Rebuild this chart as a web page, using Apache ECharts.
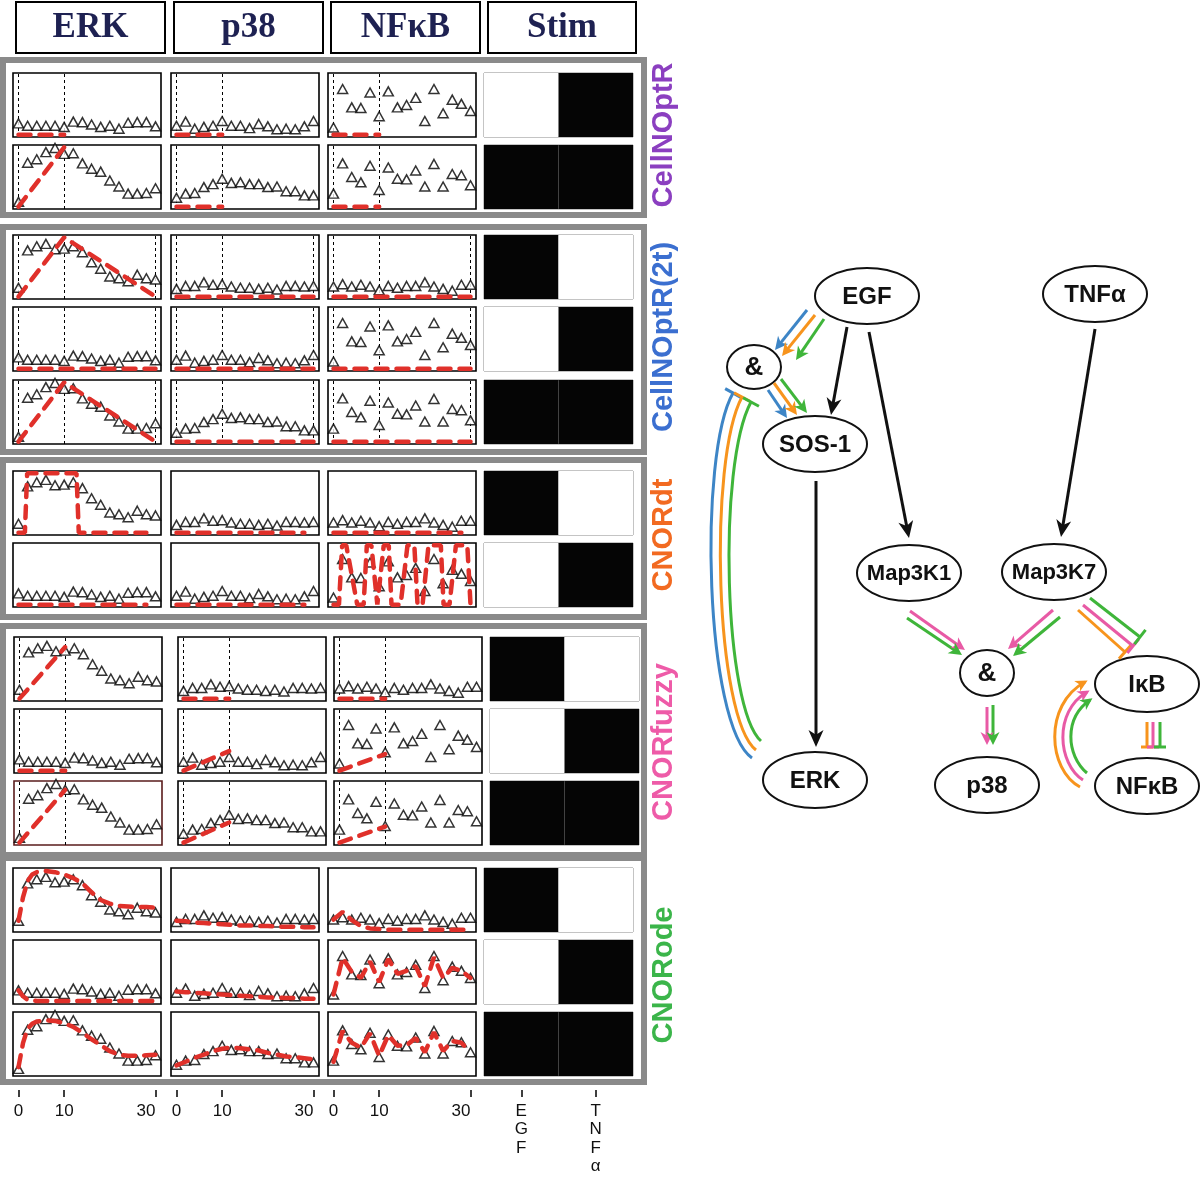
<!DOCTYPE html>
<html><head><meta charset="utf-8">
<script src="https://cdn.jsdelivr.net/npm/echarts@6/dist/echarts.min.js"></script>
<style>html,body{margin:0;padding:0;background:#fff}#c{width:1200px;height:1177px}</style>
</head><body><div id="c"></div>
<script>
// ---------------- DATA ----------------
const TIME = [0,2,4,6,8,10,12,14,16,18,20,22,24,26,28,30];
const TICK_VALUES = [0,10,30];
const SPECIES = ['ERK','p38','NFκB','Stim'];
const STIM_LABELS = ['EGF','TNFα'];
const METHODS = ['CellNOptR','CellNOptR(2t)','CNORdt','CNORfuzzy','CNORode'];

// measured data (triangles)
const ERK_EGF   = [0.15,0.78,0.85,0.89,0.80,0.81,0.85,0.75,0.58,0.47,0.34,0.31,0.26,0.37,0.31,0.29];
const ERK_TNF   = [0.19,0.15,0.15,0.15,0.15,0.13,0.22,0.21,0.17,0.13,0.15,0.10,0.20,0.21,0.21,0.14];
const ERK_BOTH  = [0.08,0.74,0.80,0.92,0.99,0.89,0.90,0.73,0.64,0.59,0.44,0.34,0.22,0.22,0.23,0.31];
const P38_EGF   = [0.13,0.18,0.18,0.24,0.20,0.21,0.17,0.15,0.15,0.13,0.15,0.12,0.18,0.18,0.17,0.18];
const P38_TNF   = [0.15,0.22,0.10,0.13,0.15,0.23,0.15,0.15,0.11,0.18,0.14,0.09,0.10,0.09,0.14,0.23];
const P38_BOTH  = [0.15,0.22,0.23,0.33,0.38,0.47,0.40,0.41,0.38,0.38,0.33,0.34,0.26,0.26,0.19,0.19];
const NFKB_EGF  = [0.17,0.21,0.17,0.20,0.17,0.11,0.18,0.15,0.18,0.18,0.24,0.17,0.13,0.10,0.20,0.20];
const NFKB_TNF  = [0.12,0.77,0.46,0.45,0.71,0.31,0.73,0.46,0.50,0.62,0.23,0.77,0.36,0.59,0.52,0.40];
const NFKB_BOTH = [0.22,0.73,0.50,0.41,0.69,0.28,0.66,0.47,0.46,0.61,0.34,0.72,0.34,0.55,0.53,0.36];

// stimuli (EGF, TNFα)
const STIM_EGF  = [1,0];
const STIM_TNF  = [0,1];
const STIM_BOTH = [1,1];

// CellNOptR (one time point)
const NOPT_T = [0,10];
const NOPT_TNF_ERK = [0,0], NOPT_TNF_P38 = [0,0], NOPT_TNF_NFKB = [0,0];
const NOPT_BOTH_ERK = [0,1], NOPT_BOTH_P38 = [0,0], NOPT_BOTH_NFKB = [0,0];
// CellNOptR (2t)
const T2_T = [0,10,30];
const T2_EGF_ERK = [0,1,0], T2_EGF_P38 = [0,0,0], T2_EGF_NFKB = [0,0,0];
const T2_TNF_ERK = [0,0,0], T2_TNF_P38 = [0,0,0], T2_TNF_NFKB = [0,0,0];
const T2_BOTH_ERK = [0,1,0], T2_BOTH_P38 = [0,0,0], T2_BOTH_NFKB = [0,0,0];
// CNORdt
const DT_FLAT_T = [0,28];
const DT_EGF_ERK_T = [0,1.4,1.9,12.7,13.2,28];
const DT_EGF_ERK   = [0,0,1,1,0,0];
const DT_EGF_P38 = [0,0], DT_EGF_NFKB = [0,0], DT_TNF_ERK = [0,0], DT_TNF_P38 = [0,0];
const DT_TNF_NFKB_T = [0,1.2,1.9,2.8,5.2,6.6,7.3,8.3,9.6,11,12.1,12.7,14.7,16.2,17.7,18.4,19.5,20.8,23.5,24.1,25.4,26.8,29.3,30];
const DT_TNF_NFKB   = [0,0,1,1,0,0,1,1,0,1,1,0,0,1,1,0,0,1,1,0,0,1,1,0];
// CNORfuzzy
const FUZ_T = [0,10];
const FUZ_EGF_ERK = [0,0.87], FUZ_EGF_P38 = [0,0], FUZ_EGF_NFKB = [0,0];
const FUZ_TNF_ERK = [0,0], FUZ_TNF_P38 = [0,0.33], FUZ_TNF_NFKB = [0,0.28];
const FUZ_BOTH_ERK = [0,0.89], FUZ_BOTH_P38 = [0,0.34], FUZ_BOTH_NFKB = [0,0.27];
// CNORode
const ODE_T = [0,1,2,3,4,6,8,10,12,14,16,18,20,22,24,26,28,30];
const ODE_EGF_ERK  = [0.15,0.55,0.82,0.93,0.97,0.99,0.97,0.93,0.87,0.78,0.63,0.50,0.44,0.40,0.39,0.38,0.38,0.37];
const ODE_TNF_ERK  = [0.19,0.09,0.03,0.02,0.01,0.01,0.01,0.01,0.01,0.01,0.01,0.01,0.01,0.01,0.01,0.01,0.01,0.01];
const ODE_BOTH_ERK = [0.11,0.52,0.76,0.84,0.88,0.90,0.89,0.85,0.79,0.69,0.58,0.48,0.38,0.32,0.30,0.30,0.31,0.32];
const ODE_EGF_P38  = [0.15,0.14,0.12,0.11,0.10,0.09,0.08,0.07,0.07,0.06,0.06,0.05,0.05,0.05,0.04,0.04];
const ODE_TNF_P38  = [0.17,0.16,0.15,0.14,0.13,0.12,0.11,0.10,0.09,0.08,0.07,0.07,0.06,0.06,0.05,0.05];
const ODE_BOTH_P38 = [0.14,0.20,0.27,0.32,0.38,0.42,0.44,0.43,0.41,0.39,0.35,0.32,0.29,0.28,0.26,0.24];
const ODE_EGF_NFKB  = [0.17,0.30,0.16,0.06,0.02,0.01,0.00,0.00,0.00,0.00,0.00,0.00,0.00,0.00,0.00,0.00];
const ODE_TNF_NFKB  = [0.12,0.74,0.50,0.40,0.68,0.33,0.72,0.47,0.52,0.60,0.26,0.75,0.40,0.57,0.52,0.40];
const ODE_BOTH_NFKB = [0.20,0.72,0.52,0.44,0.68,0.30,0.65,0.47,0.48,0.60,0.36,0.70,0.38,0.55,0.52,0.37];

// ---------------- STRUCTURE ----------------
const DATA = {EGF:[ERK_EGF,P38_EGF,NFKB_EGF], TNF:[ERK_TNF,P38_TNF,NFKB_TNF], BOTH:[ERK_BOTH,P38_BOTH,NFKB_BOTH]};
const STIM = {EGF:STIM_EGF, TNF:STIM_TNF, BOTH:STIM_BOTH};
const ROWS = [
  {g:0,c:'TNF', vl:[0,10], sim:[[NOPT_T,NOPT_TNF_ERK],[NOPT_T,NOPT_TNF_P38],[NOPT_T,NOPT_TNF_NFKB]]},
  {g:0,c:'BOTH',vl:[0,10], sim:[[NOPT_T,NOPT_BOTH_ERK],[NOPT_T,NOPT_BOTH_P38],[NOPT_T,NOPT_BOTH_NFKB]]},
  {g:1,c:'EGF', vl:[0,10,30], sim:[[T2_T,T2_EGF_ERK],[T2_T,T2_EGF_P38],[T2_T,T2_EGF_NFKB]]},
  {g:1,c:'TNF', vl:[0,10,30], sim:[[T2_T,T2_TNF_ERK],[T2_T,T2_TNF_P38],[T2_T,T2_TNF_NFKB]]},
  {g:1,c:'BOTH',vl:[0,10,30], sim:[[T2_T,T2_BOTH_ERK],[T2_T,T2_BOTH_P38],[T2_T,T2_BOTH_NFKB]]},
  {g:2,c:'EGF', vl:[], sim:[[DT_EGF_ERK_T,DT_EGF_ERK],[DT_FLAT_T,DT_EGF_P38],[DT_FLAT_T,DT_EGF_NFKB]]},
  {g:2,c:'TNF', vl:[], sim:[[DT_FLAT_T,DT_TNF_ERK],[DT_FLAT_T,DT_TNF_P38],[DT_TNF_NFKB_T,DT_TNF_NFKB]]},
  {g:3,c:'EGF', vl:[0,10], sim:[[FUZ_T,FUZ_EGF_ERK],[FUZ_T,FUZ_EGF_P38],[FUZ_T,FUZ_EGF_NFKB]]},
  {g:3,c:'TNF', vl:[0,10], sim:[[FUZ_T,FUZ_TNF_ERK],[FUZ_T,FUZ_TNF_P38],[FUZ_T,FUZ_TNF_NFKB]]},
  {g:3,c:'BOTH',vl:[0,10], sim:[[FUZ_T,FUZ_BOTH_ERK],[FUZ_T,FUZ_BOTH_P38],[FUZ_T,FUZ_BOTH_NFKB]]},
  {g:4,c:'EGF', vl:[], sim:[[ODE_T,ODE_EGF_ERK],[TIME,ODE_EGF_P38],[TIME,ODE_EGF_NFKB]]},
  {g:4,c:'TNF', vl:[], sim:[[ODE_T,ODE_TNF_ERK],[TIME,ODE_TNF_P38],[TIME,ODE_TNF_NFKB]]},
  {g:4,c:'BOTH',vl:[], sim:[[ODE_T,ODE_BOTH_ERK],[TIME,ODE_BOTH_P38],[TIME,ODE_BOTH_NFKB]]}
];

// ---------------- LAYOUT ----------------
const ROW_TOP = [73,145,235,307,380,471,543,637,709,781,868,940,1012];
const PH = 64, PW = 148;
const COLX_N = [13,171,328,484], COLX_F = [14,178,334,490];
const FRAME_Y = [[57,218],[224,455],[457,620],[623,858],[855,1085]];
const LABEL_Y = [135,337,535,742,975];
const LABEL_COL = ['#8b3fc0','#3b6fd0','#f26a21','#ee5ba8','#3bb54a'];
const HEAD_X = [[16,165],[174,323],[331,480],[488,636]];
const RED = '#e0302a';
const FONT = 'Liberation Sans, Arial, sans-serif';
const AXIS_Y = 1090;

const zip = (t,v) => t.map((x,i)=>[x,v[i]]);
const grids=[], xAxes=[], yAxes=[], series=[];
const hiddenX = {show:false};
ROWS.forEach((row, r) => {
  const cols = row.g===3 ? COLX_F : COLX_N;
  for (let s=0; s<4; s++) {
    const gi = grids.length;
    const isStim = s===3;
    grids.push({left: cols[s], top: ROW_TOP[r], width: isStim?149:PW, height: PH, show:true,
      backgroundColor:'#fff', borderColor: isStim ? '#8a8a8a' : ((r===9&&s===0)?'#5a1c1c':'#000'),
      borderWidth: isStim?1:1.6, containLabel:false, outerBoundsMode:'none'});
    yAxes.push({type:'value', gridIndex:gi, min: isStim?0:-0.04, max: isStim?1:1.04, show:false});
    if (!isStim) {
      xAxes.push({type:'value', gridIndex:gi, min:-1.2, max:31.2, show:false});
      series.push({type:'scatter', xAxisIndex:gi, yAxisIndex:gi, z:3, silent:true,
        symbol:'triangle', symbolSize:[10,9],
        itemStyle:{color:'#fff', borderColor:'#000', borderWidth:1.5},
        data: zip(TIME, DATA[row.c][s])});
      const sim = row.sim[s];
      series.push({type:'line', xAxisIndex:gi, yAxisIndex:gi, z:4, silent:true, showSymbol:false,
        lineStyle:{color:RED, width:4.5, type:[12,9], cap:'round'},
        data: zip(sim[0], sim[1]),
        markLine: row.vl.length ? {silent:true, symbol:'none', label:{show:false}, z:2,
          lineStyle:{color:'#000', width:1, type:[3,3]}, emphasis:{disabled:true},
          data: row.vl.map(v=>({xAxis:v}))} : undefined});
    } else {
      xAxes.push({type:'category', gridIndex:gi, data:STIM_LABELS, show:false});
      series.push({type:'bar', xAxisIndex:gi, yAxisIndex:gi, silent:true, barWidth:'100%', barCategoryGap:0,
        data: STIM[row.c].map(v => ({value:1, itemStyle:{color: v ? '#050505' : '#ffffff'}}))});
    }
  }
});
// bottom axis strips (ticks + labels)
for (let s=0; s<4; s++) {
  const gi = grids.length;
  const isStim = s===3;
  grids.push({left: COLX_N[s], top: AXIS_Y-10, width: isStim?149:PW, height: 10, show:false, containLabel:false, outerBoundsMode:'none'});
  yAxes.push({type:'value', gridIndex:gi, min:0, max:1, show:false});
  if (!isStim) {
    xAxes.push({type:'value', gridIndex:gi, min:-1.2, max:31.2, show:true, position:'bottom',
      axisLine:{show:false}, splitLine:{show:false},
      axisTick:{show:true, customValues:TICK_VALUES, length:7, lineStyle:{color:'#000',width:1.5}},
      axisLabel:{show:true, customValues:TICK_VALUES, fontSize:17, color:'#111', margin:13, fontFamily:FONT, alignMaxLabel:'right'}});
  } else {
    xAxes.push({type:'category', gridIndex:gi, data:STIM_LABELS, boundaryGap:true, show:true, position:'bottom',
      axisLine:{show:false}, splitLine:{show:false},
      axisTick:{show:true, alignWithLabel:true, interval:0, length:7, lineStyle:{color:'#000',width:1.5}},
      axisLabel:{show:true, interval:0, fontSize:17, lineHeight:18.5, color:'#111', margin:12, fontFamily:FONT,
        formatter: v => v.split('').join('\n')}});
  }
}

// ---------------- GRAPHICS ----------------
const G = [];
FRAME_Y.forEach((f,i) => {
  G.push({type:'rect', z:-10, shape:{x:3, y:f[0]+3, width:641, height:f[1]-f[0]-6},
    style:{fill:null, stroke:'#8a8a8a', lineWidth:6}});
  G.push({type:'text', x:664, y:LABEL_Y[i], rotation:Math.PI/2,
    style:{text:METHODS[i], fill:LABEL_COL[i], font:'bold 29px '+FONT, textAlign:'center', textVerticalAlign:'middle'}});
});
HEAD_X.forEach((h,i) => {
  G.push({type:'rect', shape:{x:h[0], y:2, width:h[1]-h[0], height:51}, style:{fill:'#fff', stroke:'#000', lineWidth:2}});
  G.push({type:'text', x:(h[0]+h[1])/2, y:28, style:{text:SPECIES[i], fill:'#1e2152',
    font:'bold 35px Liberation Serif, Times New Roman, serif', textAlign:'center', textVerticalAlign:'middle'}});
});

function head(x2,y2,ux,uy,color,L,W){
  const bx=x2-ux*L, by=y2-uy*L, nx=-uy, ny=ux;
  return {type:'polygon', z:20, shape:{points:[[x2,y2],[bx+nx*W,by+ny*W],[x2-ux*L*0.72,y2-uy*L*0.72],[bx-nx*W,by-ny*W]]},
    style:{fill:color}};
}
function arrow(x1,y1,x2,y2,color,w,L,W){
  const dx=x2-x1, dy=y2-y1, d=Math.hypot(dx,dy), ux=dx/d, uy=dy/d;
  G.push({type:'line', z:19, shape:{x1,y1,x2:x2-ux*L*0.6,y2:y2-uy*L*0.6}, style:{stroke:color, lineWidth:w}});
  G.push(head(x2,y2,ux,uy,color,L,W));
}
function tbar(x1,y1,x2,y2,color,w,half){
  const dx=x2-x1, dy=y2-y1, d=Math.hypot(dx,dy), ux=dx/d, uy=dy/d, nx=-uy, ny=ux;
  G.push({type:'line', z:19, shape:{x1,y1,x2,y2}, style:{stroke:color, lineWidth:w}});
  G.push({type:'line', z:19, shape:{x1:x2+nx*half,y1:y2+ny*half,x2:x2-nx*half,y2:y2-ny*half}, style:{stroke:color, lineWidth:w}});
}
function curve(p,color,w,end,half){
  G.push({type:'bezierCurve', z:19, shape:{x1:p[0][0],y1:p[0][1],cpx1:p[1][0],cpy1:p[1][1],cpx2:p[2][0],cpy2:p[2][1],x2:p[3][0],y2:p[3][1]},
    style:{stroke:color, lineWidth:w, fill:null}});
  const dx=p[3][0]-p[2][0], dy=p[3][1]-p[2][1], d=Math.hypot(dx,dy), ux=dx/d, uy=dy/d;
  if (end==='arrow') G.push(head(p[3][0]+ux*3,p[3][1]+uy*3,ux,uy,color,12,6));
  else G.push({type:'line', z:19, shape:{x1:p[3][0]-uy*half,y1:p[3][1]+ux*half,x2:p[3][0]+uy*half,y2:p[3][1]-ux*half}, style:{stroke:color,lineWidth:w}});
}
function node(label,cx,cy,rx,ry,fs){
  G.push({type:'ellipse', z:18, shape:{cx,cy,rx,ry}, style:{fill:'#fff', stroke:'#111', lineWidth:2}});
  G.push({type:'text', z:21, x:cx, y:cy+1, style:{text:label, fill:'#111', font:'bold '+fs+'px '+FONT, textAlign:'center', textVerticalAlign:'middle'}});
}
const BL='#3d85c6', OR='#f7941d', GR='#3fb53a', PK='#e85aa5', BK='#111';
arrow(847,327,831,415,BK,3,17,7.5);
arrow(869,332,909,538,BK,3,17,7.5);
arrow(1095,329,1061,537,BK,3,17,7.5);
arrow(816,481,816,747,BK,3,17,7.5);
arrow(807,310,775,350,BL,3,13,6.5);
arrow(815,315,782,356,OR,3,13,6.5);
arrow(824,319,796,360,GR,3,13,6.5);
arrow(768,390,787,418,BL,3,13,6.5);
arrow(774,383,797,415,OR,3,13,6.5);
arrow(781,379,807,413,GR,3,13,6.5);
curve([[752,758],[705,725],[698,455],[733,393]],BL,3,'bar',9);
curve([[756,750],[715,718],[708,460],[742,397]],OR,3,'bar',9);
curve([[761,741],[724,708],[717,465],[751,402]],GR,3,'bar',9);
arrow(910,611,965,650,PK,3,13,6.5);
arrow(907,618,962,655,GR,3,13,6.5);
arrow(1053,610,1008,649,PK,3,13,6.5);
arrow(1060,617,1013,656,GR,3,13,6.5);
arrow(987,707,987,745,PK,3,13,6.5);
arrow(993,705,993,745,GR,3,13,6.5);
tbar(1078,610,1125,652,OR,3,9);
tbar(1083,605,1133,646,PK,3,9);
tbar(1090,598,1140,637,GR,3,9);
tbar(1147,722,1147,747,OR,3,6);
tbar(1153,722,1153,747,PK,3,6);
tbar(1160,722,1160,747,GR,3,6);
curve([[1080,787],[1048,770],[1043,705],[1085,682]],OR,3,'arrow');
curve([[1083,780],[1058,764],[1053,712],[1087,692]],PK,3,'arrow');
curve([[1087,773],[1066,755],[1064,718],[1090,700]],GR,3,'arrow');
node('EGF',867,296,52,28,24);
node('TNFα',1095,294,52,28,24);
node('&',754,367,27,22,26);
node('SOS-1',815,444,52,28,24);
node('Map3K1',909,573,52,28,22);
node('Map3K7',1054,572,52,28,22);
node('&',987,673,27,23,26);
node('IκB',1147,684,52,28,24);
node('p38',987,785,52,28,24);
node('NFκB',1147,786,52,28,24);
node('ERK',815,780,52,28,24);

const chart = echarts.init(document.getElementById('c'), null, {renderer:'canvas'});
chart.setOption({animation:false, backgroundColor:'#fff', grid:grids, xAxis:xAxes, yAxis:yAxes, series, graphic:G});
</script>
</body></html>
